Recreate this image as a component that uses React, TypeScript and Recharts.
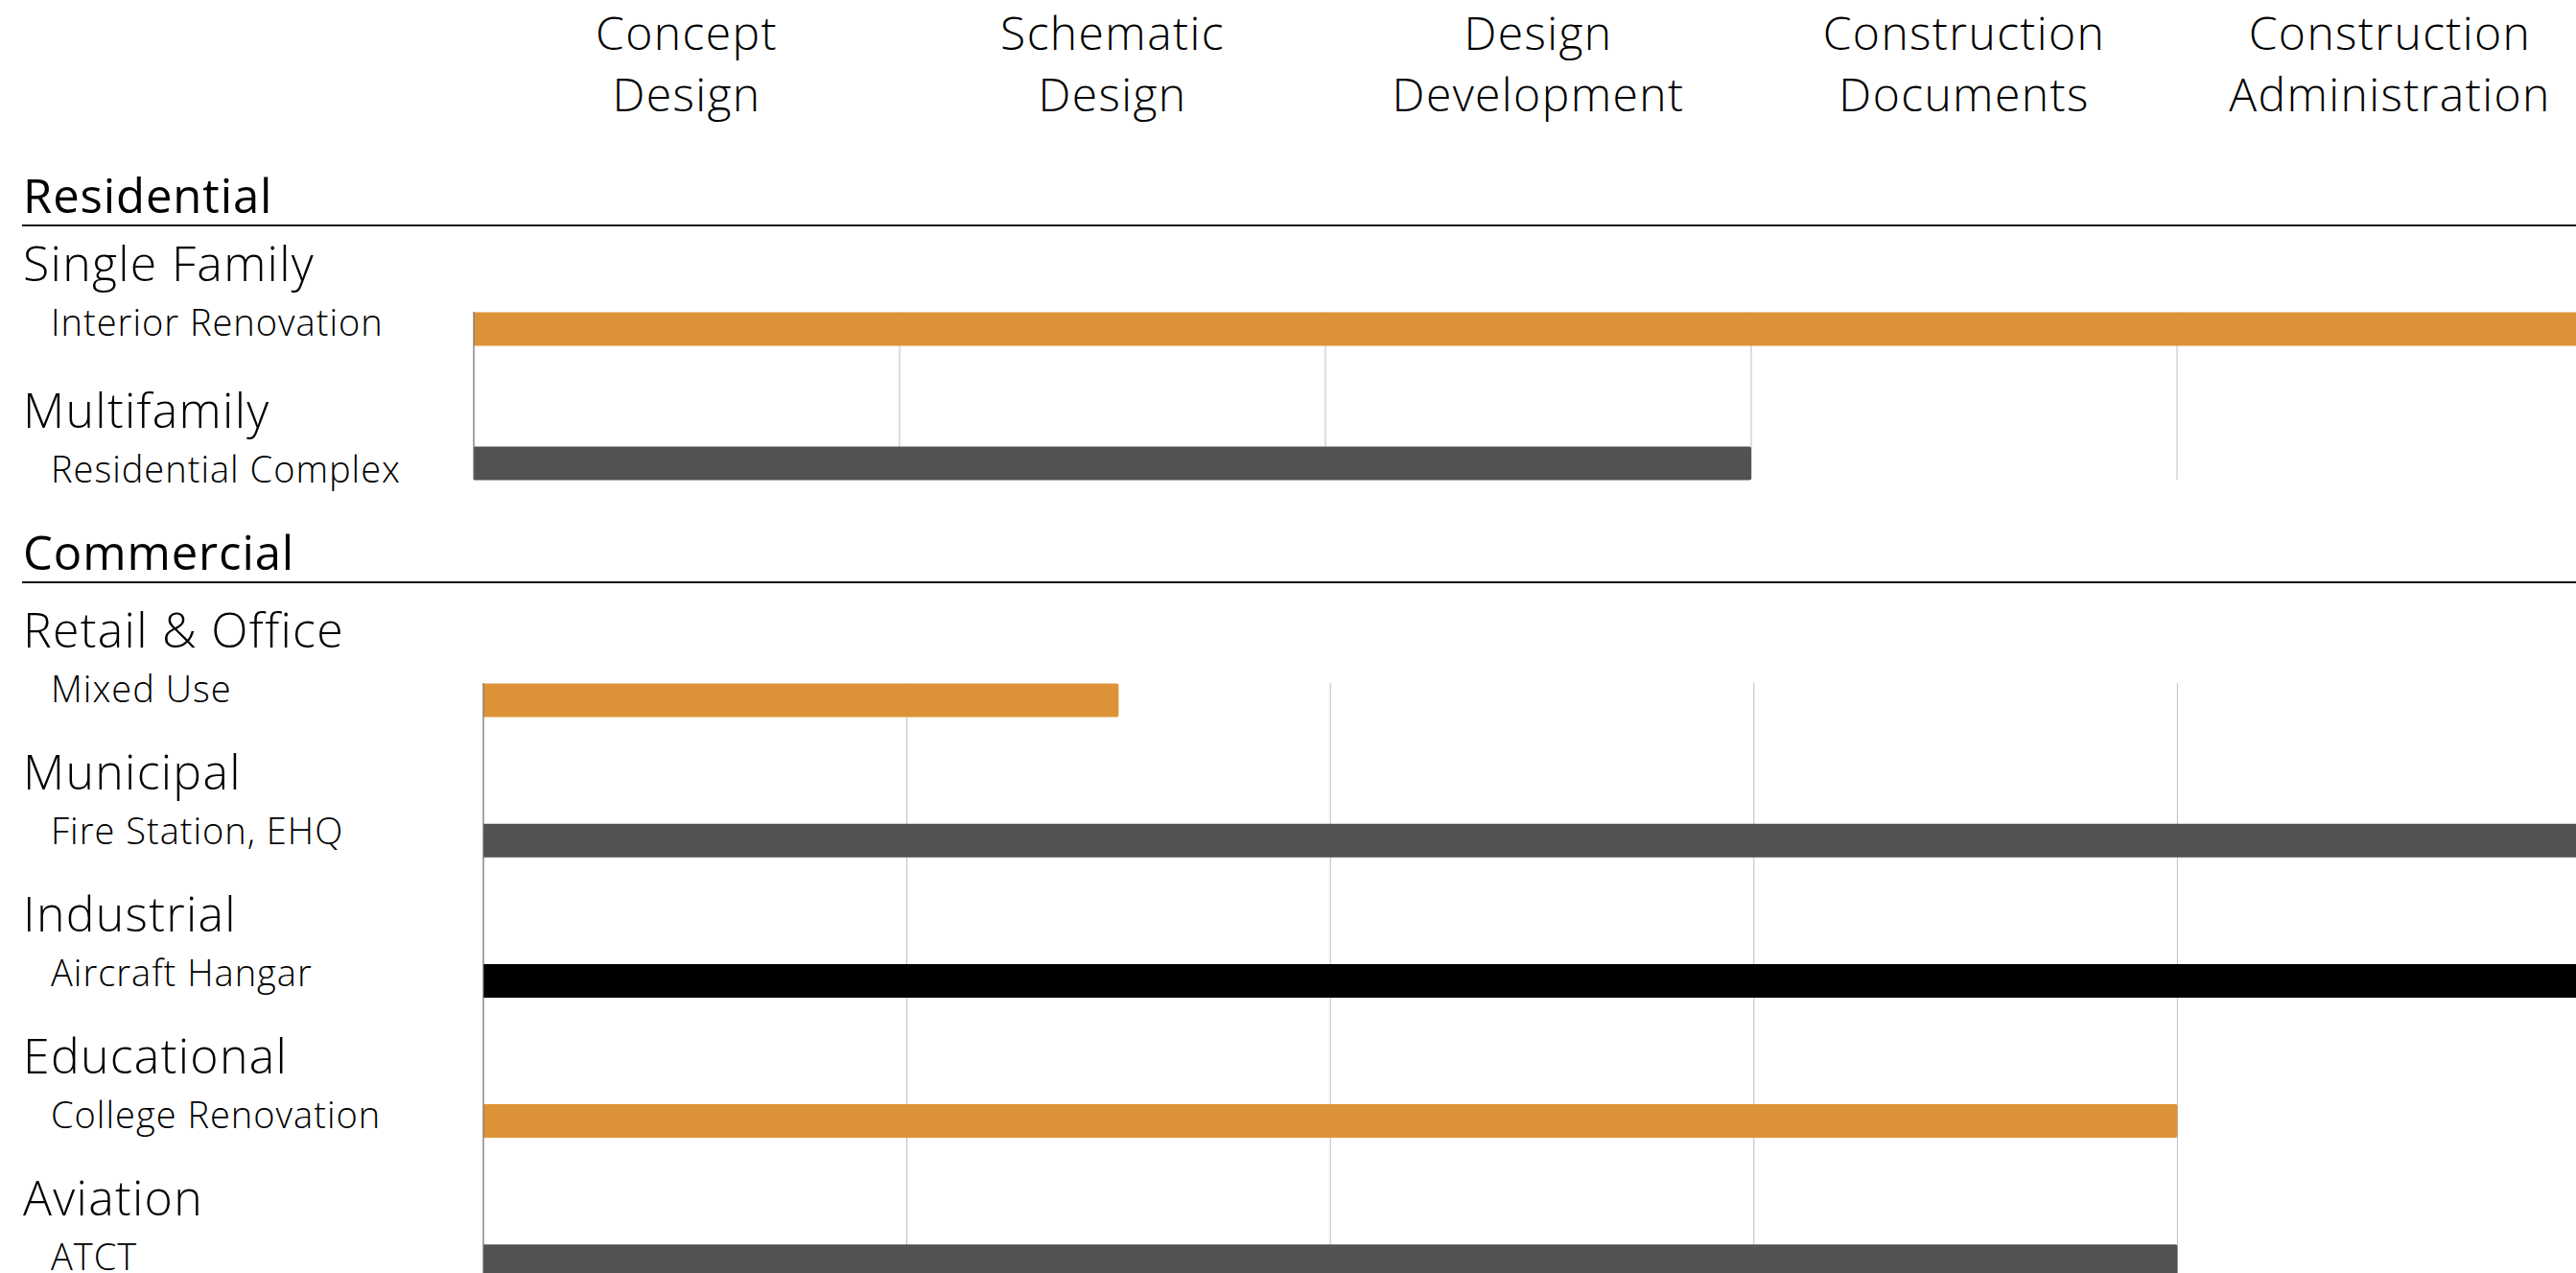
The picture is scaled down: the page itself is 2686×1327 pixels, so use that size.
import { BarChart, Bar, XAxis, YAxis, CartesianGrid, Cell } from "recharts";

const FONT = "'Open Sans', sans-serif";
const ORANGE = "#dc9337";
const GRAPHITE = "#525252";
const INK = "#000000";

// design phases along the top (two-line labels)
const phaseTop = ["Concept", "Schematic", "Design", "Construction", "Construction"];
const phaseBottom = ["Design", "Design", "Development", "Documents", "Administration"];
const phaseCenters = [0.5, 1.5, 2.5, 3.5, 4.5];
const phaseBounds = [0, 1, 2, 3, 4, 5];

// Residential
const residentialTypes = ["Single Family", "Multifamily"];
const residentialProjects = ["Interior Renovation", "Residential Complex"];
const residentialReach = [5, 3];
const residentialColors = [ORANGE, GRAPHITE];

// Commercial
const commercialTypes = ["Retail & Office", "Municipal", "Industrial", "Educational", "Aviation"];
const commercialProjects = ["Mixed Use", "Fire Station, EHQ", "Aircraft Hangar", "College Renovation", "ATCT"];
const commercialReach = [1.5, 5, 5, 4, 4];
const commercialColors = [ORANGE, GRAPHITE, INK, ORANGE, GRAPHITE];

function PhaseTick({ x, y, payload }: any) {
  const i = Math.floor(payload.value);
  return (
    <text
      textAnchor="middle"
      fontFamily={FONT}
      fontWeight={300}
      fontSize={48}
      letterSpacing={1.4}
      fill="#000"
    >
      <tspan x={x} y={y - 273}>{phaseTop[i]}</tspan>
      <tspan x={x} y={y - 209}>{phaseBottom[i]}</tspan>
    </text>
  );
}

const EmptyTick = () => <g />;

function projectTick(types: string[], axisWidth: number, base: number, drift: number) {
  return function ProjectTick({ x, y, payload, index }: any) {
    const left = x - axisWidth;
    const baseline = y + base + index * drift;
    return (
      <g>
        <text
          x={left + 24}
          y={baseline - 57}
          fontFamily={FONT}
          fontWeight={300}
          fontSize={50}
          letterSpacing={1.3}
          fill="#000"
        >
          {types[index]}
        </text>
        <text
          x={left + 53}
          y={baseline}
          fontFamily={FONT}
          fontWeight={300}
          fontSize={38}
          letterSpacing={1}
          fill="#000"
        >
          {payload.value}
        </text>
      </g>
    );
  };
}

function GroupHeading({ label, top }: { label: string; top: number }) {
  // rule sits at `top`, label baseline 13px above it
  return (
    <svg width={2686} height={80} style={{ position: "absolute", left: 0, top: top - 70 }}>
      <text
        x={24}
        y={57}
        fontFamily={FONT}
        fontWeight={400}
        fontSize={49}
        letterSpacing={0.9}
        fill="#000"
      >
        {label}
      </text>
      <line x1={23} x2={2686} y1={70} y2={70} stroke="#111" strokeWidth={2} />
    </svg>
  );
}

function Panel({
  projects,
  types,
  reach,
  colors,
  width,
  height,
  axisWidth,
  topBand,
  marginTop,
  marginBottom,
  yPad,
  labelBase,
  labelDrift,
  withPhases,
}: {
  projects: string[];
  types: string[];
  reach: number[];
  colors: string[];
  width: number;
  height: number;
  axisWidth: number;
  topBand: number;
  marginTop: number;
  marginBottom: number;
  yPad: number;
  labelBase: number;
  labelDrift: number;
  withPhases?: boolean;
}) {
  const rows = projects.map((p, i) => ({ project: p, reach: reach[i] }));
  return (
    <BarChart
      width={width}
      height={height}
      data={rows}
      layout="vertical"
      margin={{ top: marginTop, right: 0, bottom: marginBottom, left: 0 }}
    >
      <CartesianGrid horizontal={false} verticalValues={phaseBounds} stroke="#bdbdbd" strokeWidth={1} />
      <XAxis
        type="number"
        orientation="top"
        domain={[0, 5]}
        ticks={phaseCenters}
        interval={0}
        height={topBand}
        axisLine={false}
        tickLine={false}
        tickSize={0}
        tickMargin={0}
        tick={withPhases ? <PhaseTick /> : EmptyTick}
      />
      <YAxis
        type="category"
        dataKey="project"
        width={axisWidth}
        padding={{ top: -yPad, bottom: -yPad }}
        axisLine={{ stroke: "#6e6e6e", strokeWidth: 1 }}
        tickLine={false}
        tickSize={0}
        tickMargin={0}
        tick={projectTick(types, axisWidth, labelBase, labelDrift)}
        interval={0}
      />
      <Bar dataKey="reach" barSize={35} radius={[0, 2, 2, 0]} isAnimationActive={false}>
        {rows.map((r, i) => (
          <Cell key={r.project} fill={colors[i]} />
        ))}
      </Bar>
    </BarChart>
  );
}

export default function App() {
  return (
    <div
      style={{
        position: "absolute",
        left: 0,
        top: 0,
        width: 2686,
        height: 1327,
        overflow: "hidden",
        background: "#fff",
        fontFamily: FONT,
      }}
    >
      <div style={{ position: "absolute", left: 0, top: 0 }}>
        <Panel
          projects={residentialProjects}
          types={residentialTypes}
          reach={residentialReach}
          colors={residentialColors}
          width={2714}
          height={530}
          axisWidth={494}
          topBand={325}
          marginTop={0}
          marginBottom={30}
          yPad={52.5}
          labelBase={7.5}
          labelDrift={12.5}
          withPhases
        />
      </div>
      <div style={{ position: "absolute", left: 0, top: 620 }}>
        <Panel
          projects={commercialProjects}
          types={commercialTypes}
          reach={commercialReach}
          colors={commercialColors}
          width={2712}
          height={712}
          axisWidth={504}
          topBand={0}
          marginTop={92}
          marginBottom={0}
          yPad={55.6}
          labelBase={2.5}
          labelDrift={1.75}
        />
      </div>
      <GroupHeading label="Residential" top={235} />
      <GroupHeading label="Commercial" top={607} />
    </div>
  );
}
